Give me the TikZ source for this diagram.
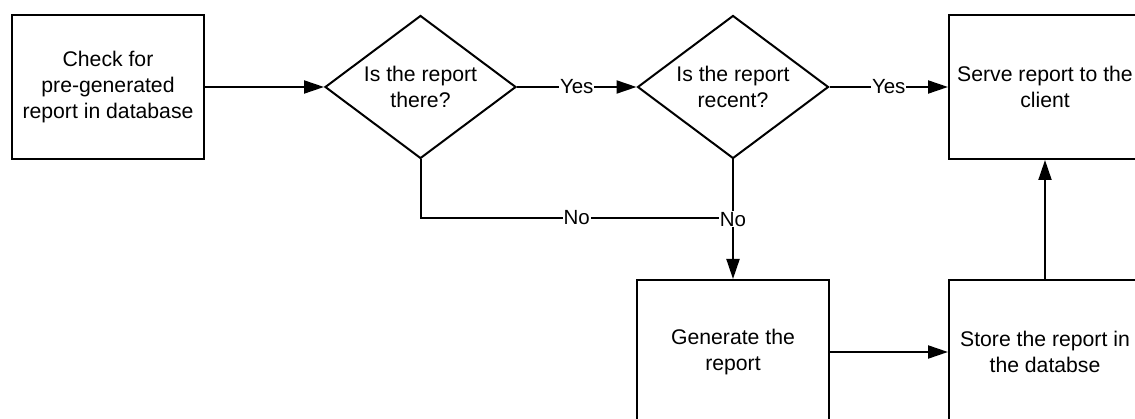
\documentclass[tikz,border=0pt]{standalone}
\usepackage{fontspec}
\setmainfont{Liberation Sans}
\usetikzlibrary{shapes.geometric,arrows.meta}
\begin{document}
\begin{tikzpicture}[x=1pt,y=-1pt,
  every node/.style={font=\fontsize{21.2pt}{26pt}\selectfont, align=center},
  box/.style={draw, line width=2pt, rectangle, minimum width=192pt, minimum height=144pt, inner sep=0pt},
  dec/.style={draw, line width=2pt, diamond, aspect=1.336, minimum width=191pt, minimum height=143pt, inner sep=0pt},
  conn/.style={line width=2pt},
  arr/.style={conn, -{Triangle[length=20pt,width=13pt]}},
  lbl/.style={fill=white, inner sep=1pt, font=\fontsize{20.5pt}{24pt}\selectfont}]
\useasboundingbox (0,0) rectangle (1135,419);
\clip (0,0) rectangle (1135,419);
\node[box] (check) at (108,87) {Check for\\pre-generated\\report in database};
\node[dec] (d1) at (420.5,87) {Is the report\\there?};
\node[dec] (d2) at (733,87) {Is the report\\recent?};
\node[box] (serve) at (1045,87) {Serve report to the\\client};
\node[box] (gen) at (733,352) {Generate the\\report};
\node[box] (store) at (1045,352) {Store the report in\\the databse};
\coordinate (join) at (733,218);
\draw[arr] (check.east) -- (d1.west);
\draw[arr] (d1.east) -- node[lbl]{Yes} (d2.west);
\draw[arr] (d2.east) -- node[lbl]{Yes} (serve.west);
\draw[conn] (d1.south) |- node[lbl,pos=0.75]{No} (join);
\draw[arr] (d2.south) -- node[lbl]{No} (gen.north);
\draw[arr] (gen.east) -- (store.west);
\draw[arr] (store.north) -- (serve.south);
\end{tikzpicture}
\end{document}
